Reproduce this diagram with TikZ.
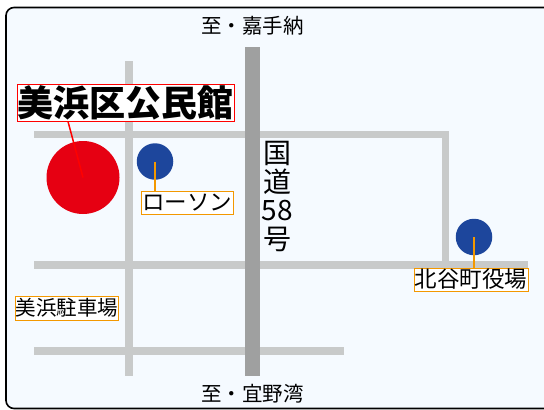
\documentclass[tikz,border=0pt]{standalone}
\usepackage{fontspec}
\setmainfont{Noto Sans CJK JP}
\definecolor{bgc}{HTML}{F5FAFF}
\definecolor{road}{HTML}{C8CACA}
\definecolor{hwy}{HTML}{9FA0A0}
\definecolor{redc}{HTML}{E60012}
\definecolor{bluec}{HTML}{1D469C}
\definecolor{orc}{HTML}{F39800}
\tikzset{
 x=1pt,y=-1pt,
 frame/.style={draw=black,line width=1.6pt,fill=bgc,rounded corners=8pt},
 roadline/.style={draw=road,line width=7.5pt},
 hwyline/.style={draw=hwy,line width=15pt},
 bigspot/.style={circle,fill=redc,minimum size=73pt,inner sep=0pt},
 spot/.style={circle,fill=bluec,minimum size=36.5pt,inner sep=0pt},
 lab/.style={font=\fontsize{20.5}{20.5}\selectfont,text=black,inner sep=0pt},
 boxed/.style={draw=orc,line width=1pt,fill=white,inner sep=0pt,minimum height=23pt},
 redbox/.style={draw=red,line width=1pt,fill=white,font=\bfseries\fontsize{36}{36}\selectfont,inner sep=0pt,minimum width=217pt,minimum height=37pt},
 redlead/.style={draw=red,line width=1.5pt},
 orlead/.style={draw=orc,line width=1.5pt}
}
\begin{document}
\begin{tikzpicture}
\useasboundingbox (0,0) rectangle (544,410);
\path[frame] (6,7.5) rectangle (552,408.5);
\draw[roadline] (129,61) -- (129,376);
\draw[roadline] (34,134.5) -- (449,134.5) ;
\draw[roadline] (445.5,131) -- (445.5,265);
\draw[roadline] (34,265) -- (528,265);
\draw[roadline] (34,351) -- (344,351);
\draw[hwyline] (252.5,47) -- (252.5,376);
\node[bigspot] (hall) at (83,177.5) {};
\node[spot] (lawson) at (155,161.5) {};
\node[spot] (office) at (474,237) {};
\node[redbox] (hallt) at (125.5,102.5) {美浜区公民館};
\node[boxed,minimum width=92pt,font=\fontsize{22.5}{22.5}\selectfont] (lawsont) at (187,202.5) {ローソン};
\node[boxed,minimum width=114pt,font=\fontsize{22.5}{22.5}\selectfont] (officet) at (471,279.5) {北谷町役場};
\node[boxed,minimum width=102pt,minimum height=24pt,font=\fontsize{20.5}{20.5}\selectfont] (parkt) at (67,308) {美浜駐車場};
\node[lab] (north) at (252.5,26) {至・嘉手納};
\node[lab] (south) at (252.5,394) {至・宜野湾};
\node[lab,font=\fontsize{28}{28.5}\selectfont,align=center] (route) at (277.5,196.5) {国\\道\\58\\号};
\draw[redlead] (hallt.south -| 68,121) -- (hall.center);
\draw[orlead] (lawson.center) -- (lawsont.north -| lawson.center);
\draw[orlead] (office.center) -- (officet.north -| office.center);
\end{tikzpicture}
\end{document}
